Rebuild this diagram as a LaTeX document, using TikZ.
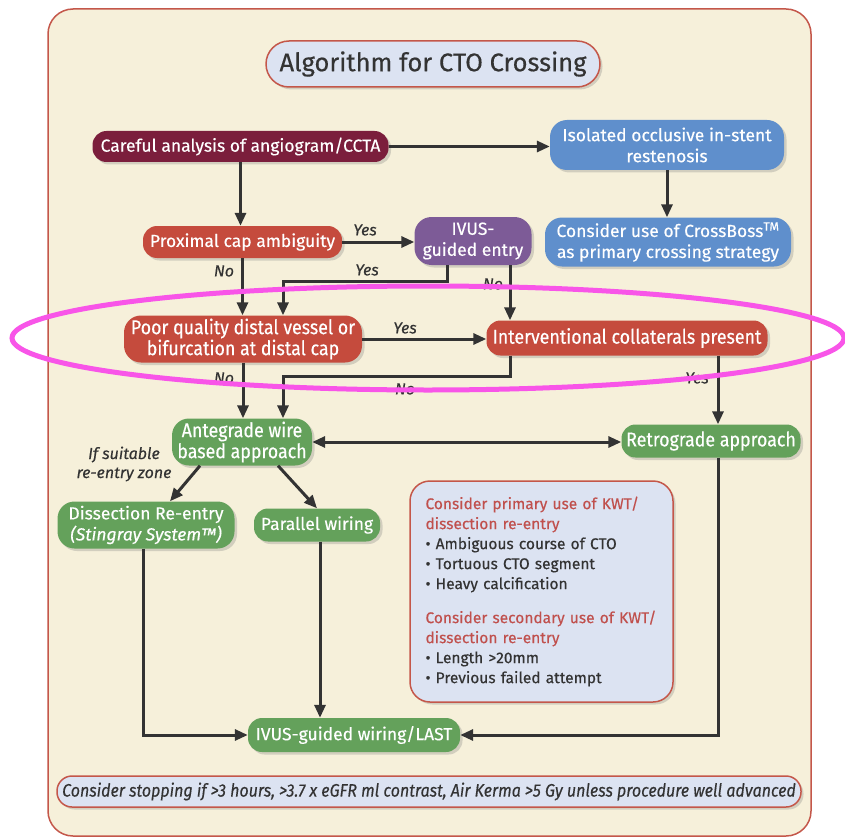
\documentclass[tikz,border=0pt]{standalone}
\usepackage{fontspec}
\setmainfont{Fira Sans}[FakeBold=0.35]
\newfontfamily\cond{Fira Sans}[FakeStretch=0.89, FakeBold=0.35]
\usetikzlibrary{arrows.meta,shadows}
\definecolor{cream}{HTML}{F6F0DA}
\definecolor{frame}{HTML}{C4574A}
\definecolor{maroon}{HTML}{7B1E3C}
\definecolor{bluebox}{HTML}{5F8FCC}
\definecolor{redbox}{HTML}{C54B3D}
\definecolor{purplebox}{HTML}{7D5B97}
\definecolor{greenbox}{HTML}{64A15B}
\definecolor{lightblue}{HTML}{DCE3F2}
\definecolor{arrowc}{HTML}{333333}
\definecolor{redtext}{HTML}{C0504D}
\definecolor{magentaring}{HTML}{F855E8}
\begin{document}
\begin{tikzpicture}[x=1pt,y=-1pt,
  pill/.style={rounded corners=14pt, inner sep=0pt, text=white, align=center,
    font=\fontsize{17.5}{21}\selectfont,
    drop shadow={opacity=0.3, shadow xshift=2.5pt, shadow yshift=-2.5pt}},
  pilltwo/.style={pill, rounded corners=17pt},
  condtxt/.style={font=\fontsize{20}{21}\selectfont\cond},
  arr/.style={draw=arrowc, line width=3pt, -{Triangle[length=13pt,width=11pt]}},
  biarr/.style={draw=arrowc, line width=3pt, {Triangle[length=13pt,width=11pt]}-{Triangle[length=13pt,width=11pt]}},
  lbl/.style={text=arrowc, font=\fontsize{16}{18}\selectfont\itshape, inner sep=0pt}
]
\useasboundingbox (0,0) rectangle (845,837);
\fill[white] (0,0) rectangle (845,837);
\draw[fill=cream, draw=frame, line width=1.5pt, rounded corners=25pt] (48,9) rectangle (811,836);

% title
\node[draw=frame, line width=1.5pt, fill=lightblue, rounded corners=23pt, inner sep=0pt,
  minimum width=334pt, minimum height=46pt, text=arrowc, font=\fontsize{25.5}{30}\selectfont,
  drop shadow={opacity=0.3, shadow xshift=2.5pt, shadow yshift=-2.5pt}]
  (title) at (433,64) {Algorithm for CTO Crossing};

% nodes
\node[pill, fill=maroon, minimum width=296pt, minimum height=31pt] (careful) at (240.5,146.5) {Careful analysis of angiogram/CCTA};
\node[pilltwo, fill=bluebox, minimum width=234pt, minimum height=50pt] (isolated) at (667,145) {Isolated occlusive in-stent\\restenosis};
\node[pilltwo, fill=bluebox, minimum width=246pt, minimum height=49pt] (crossboss) at (668,242) {Consider use of CrossBoss\textsuperscript{TM}\\as primary crossing strategy};
\node[pill, fill=redbox, minimum width=199pt, minimum height=32pt] (proximal) at (242.5,242) {Proximal cap ambiguity};
\node[pilltwo, fill=purplebox, minimum width=117pt, minimum height=48pt] (ivus) at (473,241) {IVUS-\\guided entry};
\node[pilltwo, condtxt, fill=redbox, minimum width=238pt, minimum height=47pt] (poor) at (243,339) {Poor quality distal vessel or\\bifurcation at distal cap};
\node[pill, condtxt, fill=redbox, minimum width=281pt, minimum height=35pt] (interv) at (627,338) {Interventional collaterals present};
\node[pilltwo, condtxt, fill=greenbox, minimum width=140pt, minimum height=47pt] (antegrade) at (242,442) {Antegrade wire\\based approach};
\node[pill, condtxt, fill=greenbox, minimum width=179pt, minimum height=33pt] (retro) at (711,441) {Retrograde approach};
\node[pilltwo, fill=greenbox, minimum width=177pt, minimum height=47pt] (dissect) at (146,525) {Dissection Re-entry\\\textit{(Stingray System™)}};
\node[pill, fill=greenbox, minimum width=126pt, minimum height=33pt] (parallel) at (317,525) {Parallel wiring};
\node[pill, fill=greenbox, minimum width=212pt, minimum height=34pt] (last) at (354,735) {IVUS-guided wiring/LAST};

% KWT box
\node[draw=frame, line width=1.5pt, fill=lightblue, rounded corners=20pt, inner sep=0pt,
  minimum width=263pt, minimum height=221pt, text width=232pt, align=left, text=arrowc,
  font=\fontsize{15.5}{20}\selectfont,
  drop shadow={opacity=0.3, shadow xshift=2.5pt, shadow yshift=-2.5pt}]
  (kwt) at (541.5,591.5) {%
  \textcolor{redtext}{Consider primary use of KWT/}\\
  \textcolor{redtext}{dissection re-entry}\\
  • Ambiguous course of CTO\\
  • Tortuous CTO segment\\
  • Heavy calcification\\[14pt]
  \textcolor{redtext}{Consider secondary use of KWT/}\\
  \textcolor{redtext}{dissection re-entry}\\
  • Length >20mm\\
  • Previous failed attempt};

% bottom box
\node[draw=frame, line width=1.5pt, fill=lightblue, rounded corners=15pt, inner sep=0pt,
  minimum width=744pt, minimum height=31pt, text=arrowc,
  font=\fontsize{18}{20}\selectfont\cond\itshape,
  drop shadow={opacity=0.3, shadow xshift=2.5pt, shadow yshift=-2.5pt}]
  (stop) at (429,791.5) {Consider stopping if >3 hours, >3.7 x eGFR ml contrast, Air Kerma >5 Gy unless procedure well advanced};

% connectors
\draw[arr] (careful.east) -- (careful.east -| isolated.west);
\draw[arr] (isolated.south) -- (isolated.south |- crossboss.north);
\draw[arr] (careful.south) -- (careful.south |- proximal.north);
\draw[arr] (proximal.east) -- (proximal.east -| ivus.west);
\draw[arr] (proximal.south) -- (proximal.south |- poor.north);
\draw[arr] ([xshift=-26pt]ivus.south) -- ++(0,16) -| ([xshift=40pt]poor.north);
\draw[arr] ([xshift=37pt]ivus.south) -- ([xshift=37pt]ivus.south |- interv.north);
\draw[arr] (poor.east) -- (poor.east -| interv.west);
\draw[arr] (poor.south) -- (poor.south |- antegrade.north);
\draw[arr] ([xshift=-117pt]interv.south) -- ++(0,21) -| ([xshift=41pt]antegrade.north);
\draw[arr] ([xshift=91pt]interv.south) -- ([xshift=91pt]interv.south |- retro.north);
\draw[biarr] (antegrade.east) -- (antegrade.east -| retro.west);
\draw[arr] ([xshift=-42pt]antegrade.south) -- ([xshift=24pt]dissect.north);
\draw[arr] ([xshift=36pt]antegrade.south) -- (parallel.north);
\draw[arr] ([xshift=-3pt]dissect.south) |- (last.west);
\draw[arr] ([xshift=3pt]parallel.south) -- ([xshift=3pt]parallel.south |- last.north);
\draw[arr] ([xshift=7pt]retro.south) |- (last.east);

% labels
\node[lbl] (l1) at (365,230) {Yes};
\node[lbl] (l2) at (224,271) {No};
\node[lbl] (l3) at (367,270) {Yes};
\node[lbl] (l4) at (493,284) {No};
\node[lbl] (l5) at (405,328) {Yes};
\node[lbl] (l6) at (224,378) {No};
\node[lbl] (l7) at (405,389) {No};
\node[lbl] (l8) at (697,378) {Yes};
\node[lbl, font=\fontsize{16}{19}\selectfont\itshape, align=center] (l9) at (124,464) {If suitable\\re-entry zone};

% highlight ring
\draw[magentaring, line width=5pt] (428,338) ellipse [x radius=416pt, y radius=52pt];
\end{tikzpicture}
\end{document}
